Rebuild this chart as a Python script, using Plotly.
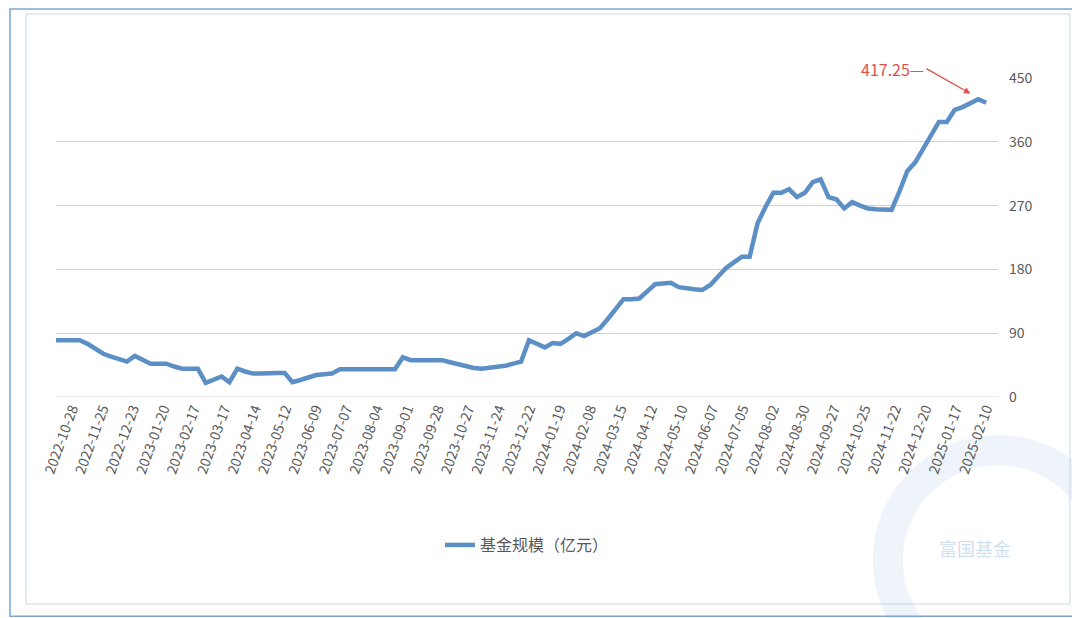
import plotly.graph_objects as go

# weekly fund size (亿元)
fund_size = [
    80, 80, 80, 80, 75, 68, 61, 57, 54, 50,
    58, 53, 47, 47, 47, 43, 40, 40, 40, 20,
    25, 29, 21, 40, 36, 33, 33, 34, 34, 34,
    21, 24, 27, 31, 32, 33, 39, 39, 39, 39,
    39, 39, 39, 39, 56, 52, 52, 52, 52, 52,
    49, 46, 43, 41, 40, 41, 43, 44, 47, 50,
    80, 75, 70, 76, 75, 82, 90, 86, 91, 97,
    110, 124, 138, 138, 139, 149, 159, 160, 161, 155,
    153, 152, 151, 158, 170, 182, 190, 198, 198, 245,
    268, 288, 288, 293, 282, 288, 303, 307, 282, 279,
    266, 275, 270, 266, 265, 265, 264, 290, 319, 331,
    350, 370, 388, 388, 405, 409, 414, 420, 415,
]
tick_labels = [
    "2022-10-28", "2022-11-25", "2022-12-23", "2023-01-20", "2023-02-17",
    "2023-03-17", "2023-04-14", "2023-05-12", "2023-06-09", "2023-07-07",
    "2023-08-04", "2023-09-01", "2023-09-28", "2023-10-27", "2023-11-24",
    "2023-12-22", "2024-01-19", "2024-02-08", "2024-03-15", "2024-04-12",
    "2024-05-10", "2024-06-07", "2024-07-05", "2024-08-02", "2024-08-30",
    "2024-09-27", "2024-10-25", "2024-11-22", "2024-12-20", "2025-01-17",
    "2025-02-10",
]
n = len(tick_labels)
tick_pos = [2 + i * 116 / (n - 1) for i in range(n)]
peak_idx, peak_val = 116, 417.25

x = list(range(len(fund_size)))
font = "Noto Sans CJK SC"
grey = "#595959"

fig = go.Figure()
fig.add_trace(go.Scatter(x=x, y=fund_size, mode="lines", name="基金规模（亿元）",
                         line=dict(color="#5b8fc5", width=4.5)))

fig.add_annotation(x=peak_idx, y=428, ax=-44, ay=-25, text="417.25—",
                   showarrow=True, arrowhead=2, arrowsize=1, arrowwidth=1.3,
                   arrowcolor="#d9534f", xanchor="right",
                   font=dict(color="#d9534f", size=16, family=font))

# watermark
fig.add_shape(type="circle", xref="paper", yref="paper", x0=0.883, x1=1.117, y0=-0.856, y1=-0.166,
              line=dict(color="rgba(91,143,197,0.10)", width=30), layer="below")
fig.add_annotation(xref="paper", yref="paper", x=1.016, y=-0.52, text="富国基金", showarrow=False,
                   font=dict(color="rgba(91,143,197,0.30)", size=18, family=font))

# outer frames
fig.add_shape(type="rect", xref="paper", yref="paper", x0=-0.0488, x1=1.0934, y0=-0.687, y1=1.216,
              line=dict(color="#7ba6d2", width=1.5), layer="below")
fig.add_shape(type="rect", xref="paper", yref="paper", x0=-0.0318, x1=1.0764, y0=-0.649, y1=1.2006,
              line=dict(color="#c9d7e6", width=1), layer="below")

fig.update_layout(
    width=1080, height=610,
    margin=dict(l=48, r=90, t=70, b=221),
    paper_bgcolor="white", plot_bgcolor="white",
    font=dict(family=font, color=grey, size=14),
    showlegend=True,
    legend=dict(orientation="h", x=0.5, xanchor="center", y=-0.464, yanchor="middle",
                font=dict(size=16, color=grey)),
    xaxis=dict(range=[0, 119.5], tickmode="array", tickvals=tick_pos, ticktext=tick_labels,
               tickangle=-70, showgrid=False, zeroline=False, showline=False, automargin=False,
               ticklabeloverflow="allow", tickfont=dict(size=14, color=grey)),
    yaxis=dict(side="right", range=[0, 450], dtick=90, showgrid=True, gridcolor="#d0d0d0",
               zeroline=False, showline=False, ticks="", ticklabelstandoff=10, automargin=False,
               tickfont=dict(size=14, color=grey)),
)
fig.add_hline(y=0, line=dict(color="#d0d0d0", width=1))

fig.write_html("out.html")
